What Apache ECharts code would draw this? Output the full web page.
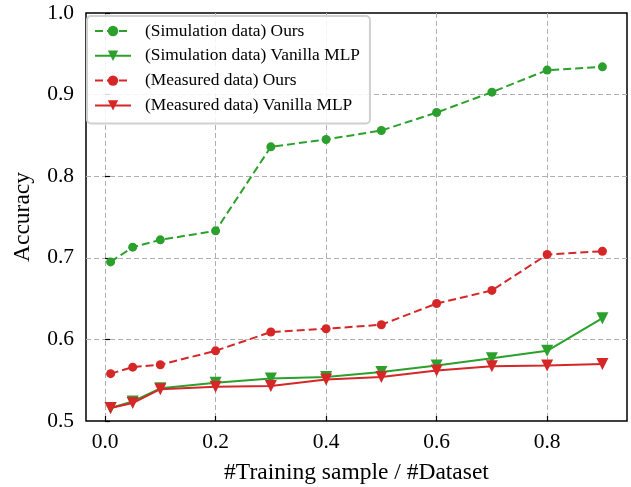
<!DOCTYPE html>
<html>
<head>
<meta charset="utf-8">
<script src="https://cdn.jsdelivr.net/npm/echarts@6/dist/echarts.min.js"></script>
<style>
  html, body { margin: 0; padding: 0; background: #fff; }
  #chart { width: 631px; height: 487px; }
</style>
</head>
<body>
<div id="chart"></div>
<script>
// training ratio on x
const ratios = [0.01, 0.05, 0.1, 0.2, 0.3, 0.4, 0.5, 0.6, 0.7, 0.8, 0.9]
const xTicks = [0.0, 0.2, 0.4, 0.6, 0.8]

// accuracies
const simOurs = [0.695, 0.713, 0.722, 0.733, 0.836, 0.845, 0.856, 0.878, 0.903, 0.930, 0.934]
const simMlp = [0.516, 0.524, 0.540, 0.547, 0.552, 0.554, 0.560, 0.568, 0.577, 0.586, 0.626]
const measOurs = [0.558, 0.566, 0.569, 0.586, 0.609, 0.613, 0.618, 0.644, 0.660, 0.704, 0.708]
const measMlp = [0.516, 0.522, 0.539, 0.542, 0.543, 0.551, 0.554, 0.562, 0.567, 0.568, 0.570]

const GREEN = '#2ca02c'
const RED = '#d62728'
const FONT = '"Liberation Serif", "Times New Roman", serif'

const pairs = (ys) => ratios.map((x, i) => [x, ys[i]])

function mkSeries(name, ys, color, dashed, symbol) {
  return {
    name: name,
    type: 'line',
    data: pairs(ys),
    symbol: symbol,
    symbolSize: symbol === 'circle' ? 9 : 12,
    symbolRotate: symbol === 'triangle' ? 180 : 0,
    itemStyle: { color: color },
    lineStyle: { color: color, width: 2, type: dashed ? [8, 4] : 'solid' },
    animation: false
  }
}

let chart = echarts.init(document.getElementById('chart'))

chart.setOption({
  backgroundColor: '#fff',
  grid: {
    left: 86, top: 13, right: 4, bottom: 66,
    outerBoundsMode: 'none', containLabel: false,
    show: true, borderColor: '#000', borderWidth: 1.5, backgroundColor: 'transparent'
  },
  legend: {
    orient: 'vertical',
    left: 87, top: 16,
    itemWidth: 36, itemHeight: 13, itemGap: 4.8,
    padding: [5, 10, 8, 7],
    backgroundColor: 'rgba(255,255,255,0.85)',
    borderColor: '#d0d0d0', borderWidth: 2, borderRadius: 4,
    textStyle: { fontFamily: FONT, fontSize: 17.4, lineHeight: 20, color: '#000', padding: [0, 0, 0, 9] },
    data: ['(Simulation data) Ours', '(Simulation data) Vanilla MLP', '(Measured data) Ours', '(Measured data) Vanilla MLP']
  },
  xAxis: {
    type: 'value',
    min: -0.0345, max: 0.9445,
    name: '#Training sample / #Dataset',
    nameLocation: 'middle', nameGap: 40,
    nameTextStyle: { fontFamily: FONT, fontSize: 23.5, color: '#000' },
    axisLine: { show: false },
    axisTick: { inside: true, length: 5, lineStyle: { color: '#000', width: 1.2 }, customValues: xTicks },
    axisLabel: { customValues: xTicks, formatter: (v) => v.toFixed(1), fontFamily: FONT, fontSize: 21.5, color: '#000', margin: 10 },
    splitLine: { show: true, lineStyle: { color: '#b0b0b0', type: [5, 3], width: 1 } }
  },
  yAxis: {
    type: 'value',
    min: 0.5, max: 1.0, interval: 0.1,
    name: 'Accuracy',
    nameLocation: 'middle', nameGap: 51,
    nameTextStyle: { fontFamily: FONT, fontSize: 23.5, color: '#000' },
    axisLine: { show: false },
    axisTick: { show: true, inside: true, length: 5, lineStyle: { color: '#000', width: 1.2 } },
    axisLabel: { formatter: (v) => v.toFixed(1), fontFamily: FONT, fontSize: 21.5, color: '#000', margin: 12 },
    splitLine: { show: true, showMinLine: false, showMaxLine: false, lineStyle: { color: '#b0b0b0', type: [5, 3], width: 1 } }
  },
  series: [
    mkSeries('(Simulation data) Ours', simOurs, GREEN, true, 'circle'),
    mkSeries('(Simulation data) Vanilla MLP', simMlp, GREEN, false, 'triangle'),
    mkSeries('(Measured data) Ours', measOurs, RED, true, 'circle'),
    mkSeries('(Measured data) Vanilla MLP', measMlp, RED, false, 'triangle')
  ]
})
</script>
</body>
</html>
